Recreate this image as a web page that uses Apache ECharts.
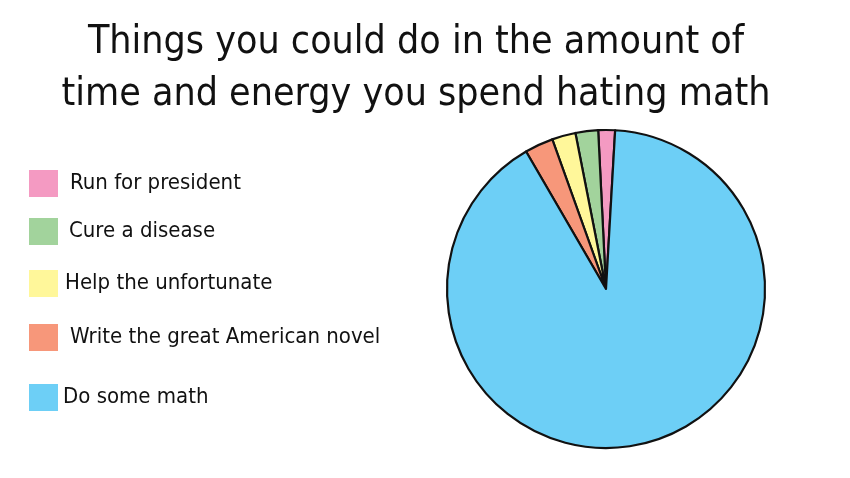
<!DOCTYPE html>
<html>
<head>
<meta charset="utf-8">
<script src="https://cdn.jsdelivr.net/npm/echarts@6/dist/echarts.min.js"></script>
<style>
html,body{margin:0;padding:0;background:#fff;}
#chart{width:850px;height:478px;}
</style>
</head>
<body>
<div id="chart"></div>
<script>
const titleLines = ['Things you could do in the amount of', 'time and energy you spend hating math'];
const categories = ['Run for president', 'Cure a disease', 'Help the unfortunate', 'Write the great American novel', 'Do some math'];
const values = [1.7, 2.3, 2.4, 2.9, 90.7];
const colors = ['#F49AC2', '#A2D39C', '#FFF79A', '#F7977A', '#6DCFF6'];

const FONT = '"DejaVu Sans Condensed", "DejaVu Sans", sans-serif';
const legendTops = [170, 218, 270, 324, 384];
const legendTextPad = [12, 11, 7, 12, 5];

const chart = echarts.init(document.getElementById('chart'), null, {renderer: 'canvas'});
const legends = categories.map((c, i) => ({
  data: [c],
  left: 29,
  top: legendTops[i],
  padding: 0,
  icon: 'rect',
  itemWidth: 29,
  itemHeight: 27,
  selectedMode: false,
  itemStyle: {borderWidth: 0},
  textStyle: {
    fontFamily: FONT,
    fontSize: 22,
    color: '#111',
    lineHeight: 27,
    padding: [0, 0, 0, legendTextPad[i] - 5]
  }
}));

chart.setOption({
  animation: false,
  backgroundColor: '#ffffff',
  color: colors,
  title: {
    text: titleLines.join('\n'),
    left: 411,
    top: 12,
    textAlign: 'center',
    textStyle: {
      fontFamily: FONT,
      fontSize: 39,
      fontWeight: 'normal',
      color: '#111',
      lineHeight: 52
    }
  },
  legend: legends,
  series: [{
    type: 'pie',
    center: [606, 289],
    radius: 159,
    startAngle: 86.7,
    clockwise: false,
    label: {show: false},
    labelLine: {show: false},
    emphasis: {disabled: true},
    itemStyle: {borderColor: '#111', borderWidth: 2.2},
    data: categories.map((c, i) => ({name: c, value: values[i], itemStyle: {color: colors[i]}}))
  }]
});
</script>
</body>
</html>
